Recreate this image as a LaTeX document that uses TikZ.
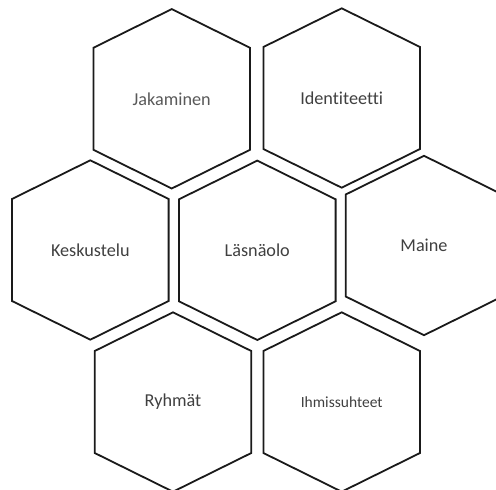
\documentclass[tikz,border=0pt]{standalone}
\usepackage{fontspec}
\setmainfont{Carlito}[Ligatures={NoCommon,NoRare,NoContextual}]
\definecolor{txt}{HTML}{404040}
\definecolor{txtlight}{HTML}{595959}
\definecolor{edge}{HTML}{1A1A1A}
\tikzset{
  hexline/.style={draw=edge, line width=1.8pt, line join=miter},
  label/.style={inner sep=0pt, text=txt, font=\fontsize{18.2}{20}\selectfont},
}
\newcommand\hexaround[1]{%
  \draw[hexline] ([shift={(0,-89.7)}]#1.center) -- ++(78.3,38.7) -- ++(0,102) -- ++(-78.3,38.7) -- ++(-78.3,-38.7) -- ++(0,-102) -- cycle;}
\begin{document}
\begin{tikzpicture}[x=1pt,y=-1pt]
\useasboundingbox (0,0) rectangle (496,490);
\clip (0,0) rectangle (496,490);
\node[label, text=txtlight] (jak) at (171.7,98.8) {Jakaminen};
\node[label] (ide) at (341.7,98) {Identiteetti};
\node[label] (kes) at (90.3,250) {Keskustelu};
\node[label] (las) at (257.3,250.3) {Läsnäolo};
\node[label] (mai) at (424,245.5) {Maine};
\node[label] (ryh) at (173,402) {Ryhmät};
\node[label, font=\fontsize{15.5}{17}\selectfont] (ihm) at (341.7,402) {Ihmissuhteet};
\foreach \n in {jak,ide,kes,las,mai,ryh,ihm} {\hexaround{\n}}
\end{tikzpicture}
\end{document}
